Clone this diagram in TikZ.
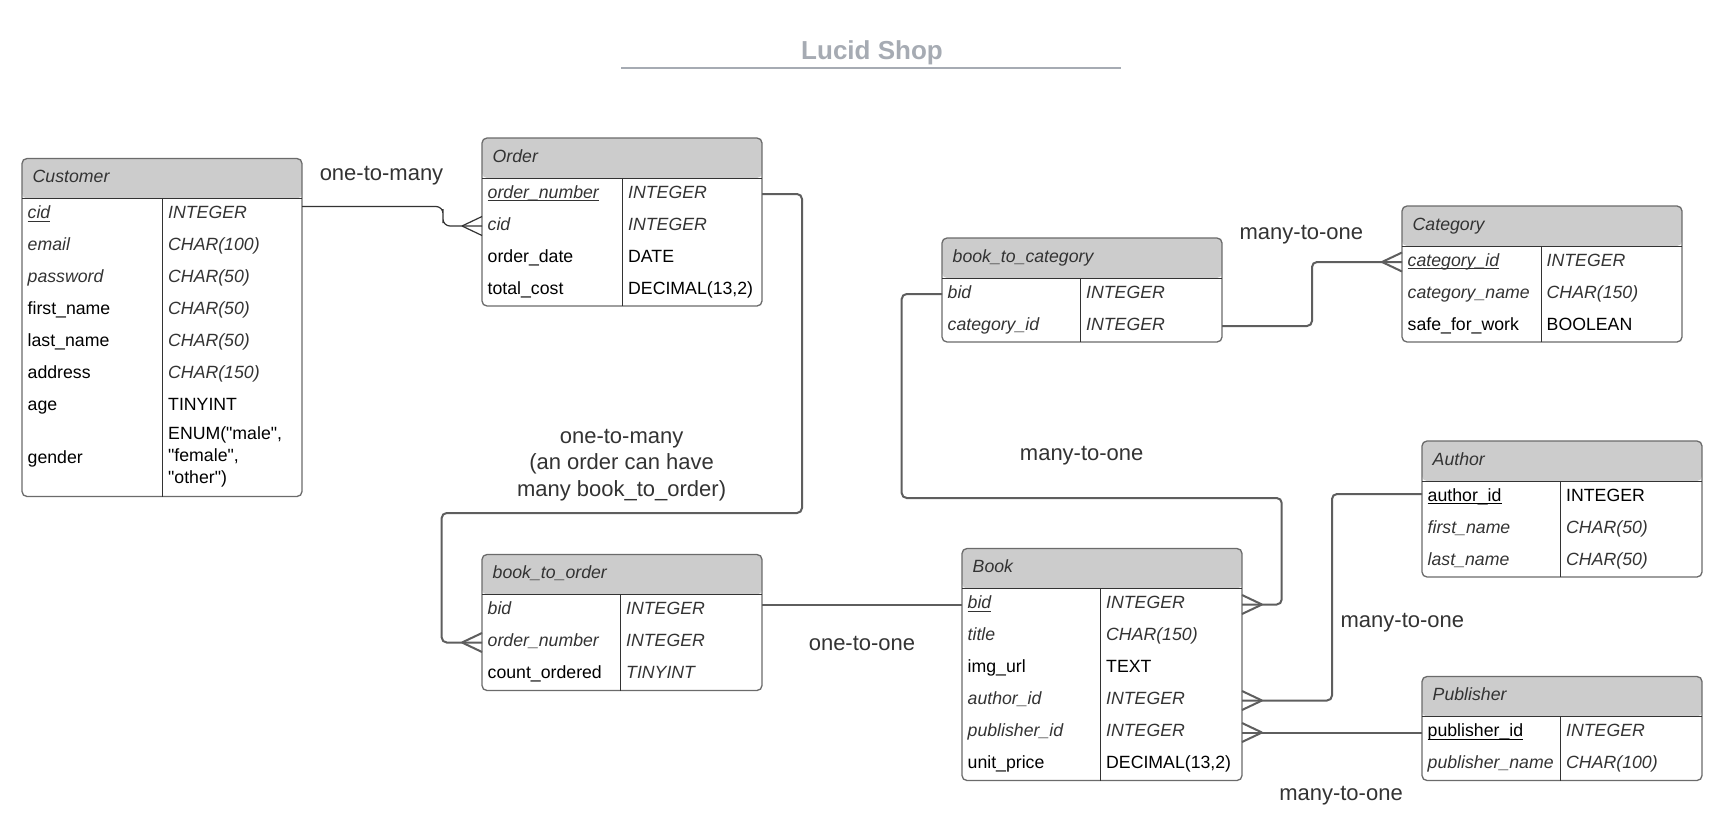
\documentclass[tikz,border=0pt]{standalone}
\usepackage{fontspec}
\setmainfont{Liberation Sans}[Ligatures=TeXOff]
\usetikzlibrary{calc}
\definecolor{hdr}{HTML}{CCCCCC}
\definecolor{outl}{HTML}{6B6B6B}
\definecolor{innerc}{HTML}{333333}
\definecolor{connc}{HTML}{5E5E5E}
\definecolor{itc}{HTML}{333333}
\definecolor{ttl}{HTML}{A6ABB3}
\newcommand\tabfont{\fontsize{17.7}{21.7}\selectfont}
\newcommand\itf[1]{{\color{itc}\itshape #1}}
\newcommand\ulf[1]{\setbox0\hbox{#1}\rlap{\vrule height -2pt depth 3.2pt width \wd0}\box0}
\newcommand\qq{\symbol{34}}
\tikzset{
  tbox/.style={rectangle, draw=outl, line width=1.3, rounded corners=5, fill=white,
    minimum width=280, inner sep=0,
    path picture={\fill[hdr] (path picture bounding box.north west) rectangle ([yshift=-40pt]path picture bounding box.north east);}},
  innerline/.style={draw=innerc, line width=1},
  rowbox/.style={rectangle, minimum width=280, inner sep=0, outer sep=0},
  ftxt/.style={anchor=base west, inner sep=0, font=\tabfont},
  htxt/.style={anchor=base west, inner sep=0, font=\tabfont\itshape, text=itc},
  lbl/.style={anchor=base, inner sep=0, font=\fontsize{22}{26.4}\selectfont, text=itc},
  conn/.style={draw=connc, line width=2},
  thinconn/.style={draw=innerc, line width=1.2},
}
% name, L, T, H, D, title
\newcommand\ertable[6]{%
  \node[tbox, minimum height=#4] (#1) at (#2+140,#3+#4/2) {};
  \draw[innerline] (#2,#3+40) -- (#2+280,#3+40);
  \draw[innerline] (#5,#3+40) -- (#5,#3+#4);
  \node[htxt] (#1-h) at (#2+10.5,#3+24) {#6};
}
% name, L, D, ycenter, h, field, type
\newcommand\errow[7]{%
  \node[rowbox, minimum height=#5] (#1) at (#2+140,#4) {};
  \node[ftxt] (#1-f) at (#2+5.5,#4+4) {#6};
  \node[ftxt] (#1-t) at (#3+5.5,#4+4) {#7};
}
\newcommand\crow[3]{\draw[#3] ($(#1)+(#2*20,0)$) -- ($(#1)+(0,9.5)$) ($(#1)+(#2*20,0)$) -- ($(#1)+(0,-9.5)$);}
\begin{document}
\begin{tikzpicture}[x=1pt,y=-1pt]
\fill[white] (0,0) rectangle (1722,830);
\path[use as bounding box] (0,0) rectangle (1722,830);

% title
\node[anchor=base, inner sep=0, font=\fontsize{26}{30}\selectfont\bfseries, text=ttl] (title) at (872,59) {Lucid Shop};
\coordinate (tl1) at (621,68);
\coordinate (tl2) at (1121,68);
\draw[ttl, line width=2] (tl1) -- (tl2);

% Customer
\ertable{cu}{22}{158.5}{338}{162.5}{Customer}
\errow{cu-cid}{22}{162.5}{214.5}{32}{\itf{\ulf{cid}}}{\itf{INTEGER}}
\errow{cu-email}{22}{162.5}{246.5}{32}{\itf{email}}{\itf{CHAR(100)}}
\errow{cu-pw}{22}{162.5}{278.5}{32}{\itf{password}}{\itf{CHAR(50)}}
\errow{cu-fn}{22}{162.5}{310.5}{32}{first\_name}{\itf{CHAR(50)}}
\errow{cu-ln}{22}{162.5}{342.5}{32}{last\_name}{\itf{CHAR(50)}}
\errow{cu-addr}{22}{162.5}{374.5}{32}{address}{\itf{CHAR(150)}}
\errow{cu-age}{22}{162.5}{406.5}{32}{age}{TINYINT}
\node[rowbox, minimum height=74] (cu-gender) at (162,459.5) {};
\node[ftxt] (cu-gender-f) at (27.5,463.5) {gender};
\node[anchor=west, inner sep=0, font=\tabfont, align=left] (cu-gender-t) at (168,457) {ENUM(\qq male\qq,\\\qq female\qq,\\\qq other\qq)};

% Order
\ertable{or}{482}{138}{168}{622.5}{Order}
\errow{or-onum}{482}{622.5}{194}{32}{\itf{\ulf{order\_number}}}{\itf{INTEGER}}
\errow{or-cid}{482}{622.5}{226}{32}{\itf{cid}}{\itf{INTEGER}}
\errow{or-date}{482}{622.5}{258}{32}{order\_date}{DATE}
\errow{or-cost}{482}{622.5}{290}{32}{total\_cost}{DECIMAL(13,2)}

% book_to_order
\ertable{bo}{482}{554.5}{136}{620.5}{book\_to\_order}
\errow{bo-bid}{482}{620.5}{610.5}{32}{\itf{bid}}{\itf{INTEGER}}
\errow{bo-onum}{482}{620.5}{642.5}{32}{\itf{order\_number}}{\itf{INTEGER}}
\errow{bo-cnt}{482}{620.5}{674.5}{32}{count\_ordered}{\itf{TINYINT}}

% book_to_category
\ertable{bc}{942}{238}{104}{1080.5}{book\_to\_category}
\errow{bc-bid}{942}{1080.5}{294}{32}{\itf{bid}}{\itf{INTEGER}}
\errow{bc-cat}{942}{1080.5}{326}{32}{\itf{category\_id}}{\itf{INTEGER}}

% Category
\ertable{ca}{1402}{206}{136}{1541}{Category}
\errow{ca-cat}{1402}{1541}{262}{32}{\itf{\ulf{category\_id}}}{\itf{INTEGER}}
\errow{ca-name}{1402}{1541}{294}{32}{\itf{category\_name}}{\itf{CHAR(150)}}
\errow{ca-sfw}{1402}{1541}{326}{32}{safe\_for\_work}{BOOLEAN}

% Author
\ertable{au}{1422}{441}{136}{1560.5}{Author}
\errow{au-aid}{1422}{1560.5}{497}{32}{\ulf{author\_id}}{INTEGER}
\errow{au-fn}{1422}{1560.5}{529}{32}{\itf{first\_name}}{\itf{CHAR(50)}}
\errow{au-ln}{1422}{1560.5}{561}{32}{\itf{last\_name}}{\itf{CHAR(50)}}

% Publisher
\ertable{pu}{1422}{676.5}{104}{1560.5}{Publisher}
\errow{pu-pid}{1422}{1560.5}{732.5}{32}{\ulf{publisher\_id}}{\itf{INTEGER}}
\errow{pu-name}{1422}{1560.5}{764.5}{32}{\itf{publisher\_name}}{\itf{CHAR(100)}}

% Book
\ertable{bk}{962}{548.5}{232}{1100.5}{Book}
\errow{bk-bid}{962}{1100.5}{604.5}{32}{\itf{\ulf{bid}}}{\itf{INTEGER}}
\errow{bk-title}{962}{1100.5}{636.5}{32}{\itf{title}}{\itf{CHAR(150)}}
\errow{bk-img}{962}{1100.5}{668.5}{32}{img\_url}{TEXT}
\errow{bk-aid}{962}{1100.5}{700.5}{32}{\itf{author\_id}}{\itf{INTEGER}}
\errow{bk-pid}{962}{1100.5}{732.5}{32}{\itf{publisher\_id}}{\itf{INTEGER}}
\errow{bk-price}{962}{1100.5}{764.5}{32}{unit\_price}{DECIMAL(13,2)}

% connectors
\coordinate (j1) at (443,216);
\draw[thinconn, rounded corners=7] ([yshift=8pt]cu-cid.east) -| (j1) |- (or-cid.west);
\crow{or-cid.west}{-1}{thinconn}

\coordinate (j2) at (802,513);
\coordinate (j3) at (441.7,642.5);
\draw[conn, rounded corners=5] (or-onum.east) -| (j2) -| (j3) -- (bo-onum.west);
\crow{bo-onum.west}{-1}{conn}

\coordinate (j4) at ([yshift=5.5pt]bo-bid.east);
\draw[conn] (j4) -- (j4 -| bk-bid.west);

\coordinate (j5) at (901.7,498);
\coordinate (j6) at (1281.7,604.5);
\draw[conn, rounded corners=5] (bc-bid.west) -| (j5) -| (j6) -- (bk-bid.east);
\crow{bk-bid.east}{1}{conn}

\coordinate (j7) at (1312,294);
\draw[conn, rounded corners=5] (bc-cat.east) -| (j7) |- (ca-cat.west);
\crow{ca-cat.west}{-1}{conn}

\coordinate (j8) at (1332,600);
\draw[conn, rounded corners=5] ([yshift=3pt]au-aid.west) -| (j8) |- (bk-aid.east);
\crow{bk-aid.east}{1}{conn}

\draw[conn] (pu-pid.west) -- (bk-pid.east);
\crow{bk-pid.east}{1}{conn}

% labels
\node[lbl] (l1) at (381.5,180.5) {one-to-many};
\node[anchor=center, inner sep=0, font=\fontsize{22}{26.4}\selectfont, text=itc, align=center] (l2) at (621.6,465) {one-to-many\\(an order can have\\many book\_to\_order)};
\node[lbl] (l3) at (862,650.5) {one-to-one};
\node[lbl] (l4) at (1081.7,460.5) {many-to-one};
\node[lbl] (l5) at (1301.4,239.8) {many-to-one};
\node[lbl] (l6) at (1402.4,627.5) {many-to-one};
\node[lbl] (l7) at (1341,800) {many-to-one};
\end{tikzpicture}
\end{document}
